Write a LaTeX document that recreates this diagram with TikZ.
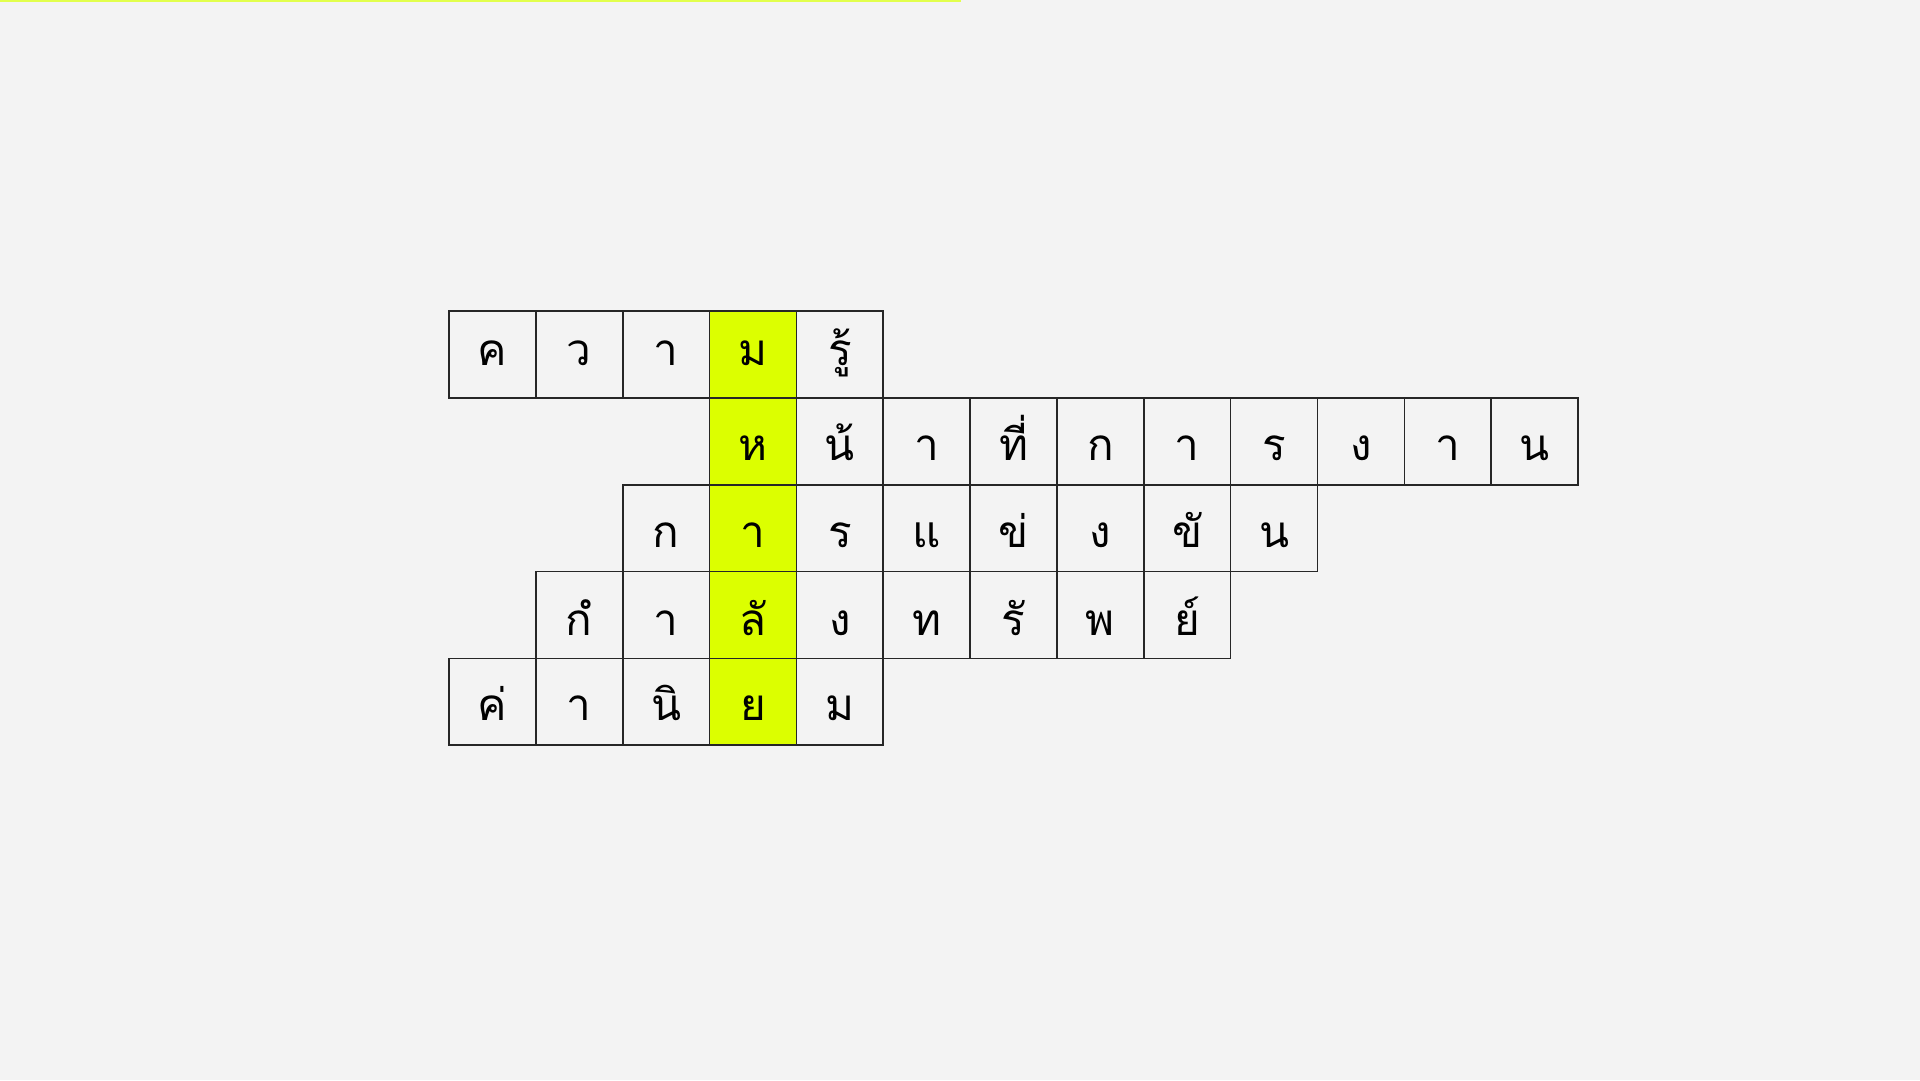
\documentclass[tikz,border=0pt]{standalone}
\usepackage{fontspec}
\newfontfamily\thaifont[Script=Thai]{Loma}
\definecolor{pagegray}{HTML}{F3F3F3}
\definecolor{limeyellow}{HTML}{DCFF00}
\definecolor{limeline}{HTML}{E2FF4C}

\begin{document}
\begin{tikzpicture}[x=86.85pt, y=-86.85pt,
    cell/.style={draw=black!85, line width=1.6pt, minimum size=86.85pt, inner sep=0pt,
      font=\thaifont\fontsize{44}{44}\selectfont, text height=44pt, text depth=6pt},
    toprow/.style={cell, text height=40pt, text depth=18pt},
    lowrow/.style={cell, text height=44pt, text depth=2pt},
    hilite/.style={fill=limeyellow}]
        \useasboundingbox (-5.1699,-3.5809) rectangle (16.9372,8.8544);
        \fill [pagegray] (-5.1699,-3.5809) rectangle (16.9372,8.8544);
        \draw [limeline, line width=2pt] (-5.1699,-3.5694) -- (5.8953,-3.5694);
        % row 0
        \node [toprow] (a0) at (0.5, 0.5) {ค};
        \node [toprow] (a1) at (1.5, 0.5) {ว};
        \node [toprow] (a2) at (2.5, 0.5) {า};
        \node [toprow, hilite] (a3) at (3.5, 0.5) {ม};
        \node [toprow] (a4) at (4.5, 0.5) {รู้};
        % row 1
        \node [cell, hilite] (b3) at (3.5, 1.5) {ห};
        \node [cell] (b4) at (4.5, 1.5) {น้};
        \node [cell] (b5) at (5.5, 1.5) {า};
        \node [cell] (b6) at (6.5, 1.5) {ที่};
        \node [cell] (b7) at (7.5, 1.5) {ก};
        \node [cell] (b8) at (8.5, 1.5) {า};
        \node [cell] (b9) at (9.5, 1.5) {ร};
        \node [cell] (b10) at (10.5, 1.5) {ง};
        \node [cell] (b11) at (11.5, 1.5) {า};
        \node [cell] (b12) at (12.5, 1.5) {น};
        % row 2
        \node [cell] (c2) at (2.5, 2.5) {ก};
        \node [cell, hilite] (c3) at (3.5, 2.5) {า};
        \node [cell] (c4) at (4.5, 2.5) {ร};
        \node [cell] (c5) at (5.5, 2.5) {แ};
        \node [cell] (c6) at (6.5, 2.5) {ข่};
        \node [cell] (c7) at (7.5, 2.5) {ง};
        \node [cell] (c8) at (8.5, 2.5) {ขั};
        \node [cell] (c9) at (9.5, 2.5) {น};
        % row 3
        \node [lowrow] (d1) at (1.5, 3.5) {กํ};
        \node [lowrow] (d2) at (2.5, 3.5) {า};
        \node [lowrow, hilite] (d3) at (3.5, 3.5) {ลั};
        \node [lowrow] (d4) at (4.5, 3.5) {ง};
        \node [lowrow] (d5) at (5.5, 3.5) {ท};
        \node [lowrow] (d6) at (6.5, 3.5) {รั};
        \node [lowrow] (d7) at (7.5, 3.5) {พ};
        \node [lowrow] (d8) at (8.5, 3.5) {ย์};
        % row 4
        \node [cell] (e0) at (0.5, 4.5) {ค่};
        \node [cell] (e1) at (1.5, 4.5) {า};
        \node [cell] (e2) at (2.5, 4.5) {นิ};
        \node [cell, hilite] (e3) at (3.5, 4.5) {ย};
        \node [cell] (e4) at (4.5, 4.5) {ม};
    \end{tikzpicture}
\end{document}
